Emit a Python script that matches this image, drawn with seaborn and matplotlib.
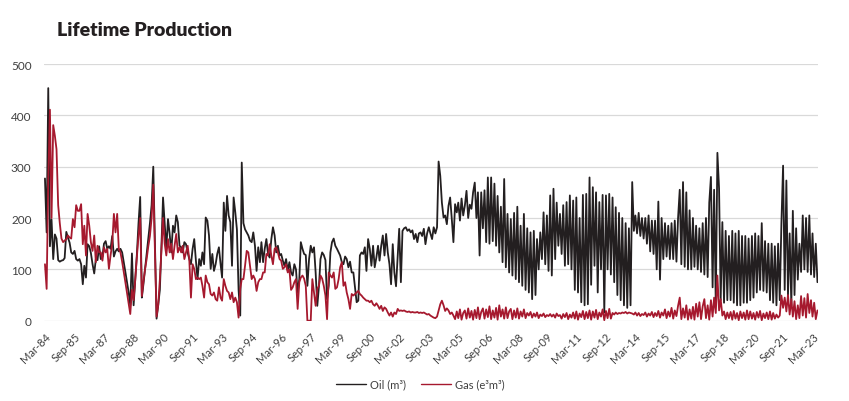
import pandas as pd
import seaborn as sns
import matplotlib.pyplot as plt
from matplotlib.lines import Line2D

# monthly production, first month is Mar-84
start_month = '1984-03-01'

oil = [
    277, 172, 453, 145, 197, 120, 168, 160, 118, 115,                  # 1984
    117, 118, 122, 173, 162, 152, 133, 130, 136, 120, 117, 120,        # 1985
    110, 71, 107, 84, 149, 145, 132, 110, 92, 120, 118, 145,           # 1986
    120, 125, 150, 155, 140, 145, 140, 165, 125, 135, 140, 135,        # 1987
    140, 133, 115, 95, 75, 55, 30, 131, 30, 80, 130, 190,              # 1988
    241, 45, 70, 100, 130, 160, 190, 225, 300, 150, 4, 30,             # 1989
    60, 150, 240, 190, 140, 198, 170, 133, 185, 172, 205, 192,         # 1990
    146, 143, 133, 153, 149, 133, 120, 110, 140, 159, 117, 81,         # 1991
    120, 107, 133, 110, 201, 195, 166, 101, 130, 97, 110, 130,         # 1992
    143, 110, 84, 230, 175, 243, 205, 192, 107, 240, 211, 178,         # 1993
    60, 10, 308, 190, 178, 172, 166, 156, 153, 172, 146, 97,           # 1994
    143, 114, 153, 114, 140, 159, 130, 123, 159, 182, 166, 133,        # 1995
    146, 127, 130, 117, 107, 120, 97, 114, 94, 88, 110, 100,           # 1996
    55, 81, 153, 140, 130, 128, 68, 120, 146, 133, 143, 94,            # 1997
    29, 68, 120, 133, 128, 118, 42, 68, 133, 153, 160, 146,            # 1998
    140, 133, 127, 114, 110, 125, 120, 104, 115, 94, 94, 65,           # 1999
    36, 39, 127, 133, 130, 143, 97, 159, 140, 107, 146, 104,           # 2000
    123, 146, 117, 146, 166, 127, 169, 133, 110, 71, 149, 94,          # 2001
    67, 127, 179, 75, 175, 180, 182, 175, 178, 172, 176, 159,          # 2002
    169, 153, 170, 172, 165, 179, 149, 170, 182, 170, 159, 182,        # 2003
    170, 182, 310, 282, 230, 201, 205, 188, 224, 240, 198, 153,        # 2004
    227, 211, 230, 195, 238, 205, 224, 253, 200, 226, 218, 250,        # 2005
    269, 200, 250, 127, 250, 180, 254, 153, 279, 150, 279, 155,        # 2006
    267, 146, 243, 133, 222, 114, 276, 104, 208, 94, 198, 88,          # 2007
    210, 81, 222, 75, 185, 68, 208, 60, 180, 55, 172, 42,              # 2008
    175, 50, 159, 100, 172, 120, 211, 110, 205, 97, 244, 88,           # 2009
    257, 120, 230, 146, 208, 130, 225, 107, 231, 110, 244, 100,        # 2010
    234, 60, 240, 55, 200, 36, 245, 30, 247, 32, 279, 70,              # 2011
    260, 107, 250, 55, 231, 100, 245, 16, 244, 100, 247, 90,           # 2012
    240, 75, 221, 50, 210, 40, 200, 30, 190, 25, 180, 30,              # 2013
    270, 175, 205, 170, 210, 165, 200, 160, 200, 150, 205, 135,        # 2014
    195, 130, 195, 100, 232, 80, 200, 120, 190, 125, 185, 120,         # 2015
    190, 120, 195, 115, 200, 255, 110, 270, 105, 250, 100, 215,        # 2016
    100, 200, 105, 185, 100, 180, 95, 190, 90, 200, 85, 230,           # 2017
    280, 65, 255, 30, 327, 257, 40, 192, 35, 175, 40, 165,             # 2018
    40, 175, 35, 170, 30, 175, 30, 165, 35, 165, 35, 160,              # 2019
    40, 165, 45, 170, 55, 165, 60, 190, 58, 155, 55, 150,              # 2020
    40, 150, 35, 145, 30, 150, 40, 190, 302, 60, 273, 50,              # 2021
    170, 30, 214, 50, 180, 80, 150, 95, 205, 100, 200, 95,             # 2022
    205, 90, 170, 85, 150, 75,                                         # 2023
]

gas = [
    110, 62, 276, 411, 200, 381, 360, 334, 225, 190,                   # 1984
    160, 153, 156, 159, 166, 162, 160, 198, 182, 225, 214, 214,        # 1985
    227, 149, 185, 127, 208, 185, 153, 136, 166, 114, 146, 133,        # 1986
    133, 117, 143, 133, 140, 101, 127, 150, 208, 172, 208, 140,        # 1987
    133, 115, 95, 75, 55, 35, 13, 60, 40, 80, 125, 165,                # 1988
    200, 48, 75, 100, 120, 145, 165, 200, 265, 140, 8, 30,             # 1989
    80, 140, 200, 150, 127, 159, 133, 150, 120, 146, 169, 133,         # 1990
    143, 133, 146, 120, 133, 146, 120, 45, 110, 101, 81, 84,           # 1991
    81, 84, 68, 45, 88, 75, 71, 52, 49, 55, 42, 39,                    # 1992
    65, 45, 39, 81, 68, 58, 55, 42, 55, 36, 45, 36,                    # 1993
    6, 62, 81, 81, 107, 136, 133, 107, 81, 88, 81, 58,                 # 1994
    75, 81, 81, 94, 94, 130, 127, 149, 127, 110, 140, 143,             # 1995
    133, 120, 117, 101, 104, 110, 94, 100, 60, 65, 75, 81,             # 1996
    23, 75, 84, 88, 82, 68, 0, 0, 0, 81, 55, 29,                       # 1997
    62, 68, 88, 82, 68, 49, 3, 94, 88, 84, 94, 62,                     # 1998
    65, 81, 104, 114, 68, 75, 55, 42, 23, 52, 49, 52,                  # 1999
    55, 58, 52, 49, 45, 42, 39, 39, 36, 39, 32, 29,                    # 2000
    34, 29, 23, 29, 19, 26, 23, 16, 10, 16, 8, 16,                     # 2001
    13, 23, 19, 20, 19, 20, 18, 17, 18, 16, 17, 16,                    # 2002
    16, 17, 15, 16, 15, 16, 14, 12, 13, 10, 8, 6,                      # 2003
    5, 8, 20, 32, 39, 30, 19, 24, 20, 13, 16, 10,                      # 2004
    3, 18, 5, 22, 2, 15, 20, 4, 24, 6, 19, 2,                          # 2005
    21, 5, 26, 3, 17, 24, 4, 22, 7, 28, 3, 20,                         # 2006
    6, 25, 2, 30, 8, 22, 4, 26, 5, 18, 23, 3,                          # 2007
    20, 6, 24, 4, 18, 8, 22, 5, 15, 10, 17, 6,                         # 2008
    14, 8, 16, 5, 12, 9, 14, 7, 11, 9, 13, 8,                          # 2009
    12, 6, 14, 9, 11, 4, 13, 7, 15, 3, 12, 6,                          # 2010
    16, 4, 18, 2, 14, 7, 19, 3, 17, 5, 20, 2,                          # 2011
    18, 6, 21, 3, 16, 8, 22, 1, 19, 5, 23, 4,                          # 2012
    15, 12, 16, 13, 15, 14, 16, 15, 17, 14, 16, 15,                    # 2013
    14, 12, 16, 10, 15, 9, 13, 11, 16, 8, 14, 10,                      # 2014
    17, 7, 15, 9, 19, 6, 16, 10, 22, 5, 18, 8,                         # 2015
    25, 4, 20, 9, 29, 45, 3, 24, 6, 30, 2, 22,                         # 2016
    4, 27, 2, 33, 8, 36, 3, 28, 42, 5, 30, 2,                          # 2017
    40, 8, 45, 15, 88, 20, 42, 10, 18, 3, 16, 5,                       # 2018
    17, 2, 19, 4, 15, 1, 18, 5, 16, 2, 20, 3,                          # 2019
    18, 4, 15, 2, 17, 6, 19, 1, 14, 5, 16, 3,                          # 2020
    18, 2, 15, 4, 12, 6, 10, 49, 25, 45, 18, 50,                       # 2021
    12, 42, 8, 38, 3, 30, 5, 48, 10, 44, 6, 52,                        # 2022
    15, 40, 8, 35, 3, 20,                                              # 2023
]

series_names = ['Oil (m³)', 'Gas (e³m³)']
series_colors = ['#231f20', '#a6192e']
y_ticks = [0, 100, 200, 300, 400, 500]
tick_step = 18  # one label every 18 months

months = pd.date_range(start_month, periods=len(oil), freq='MS')

df = pd.DataFrame({'month': months, series_names[0]: oil, series_names[1]: gas})
df = df.melt(id_vars='month', var_name='series', value_name='volume')

sns.set_theme(style='white')
plt.rcParams['font.family'] = ['Lato', 'DejaVu Sans']

fig = plt.figure(figsize=(8.49, 4.02), dpi=100)
ax = fig.add_axes([44 / 849, 1 - 321.7 / 402, (818 - 44) / 849, (321.7 - 65) / 402])

sns.lineplot(data=df, x='month', y='volume', hue='series', hue_order=series_names,
             palette=dict(zip(series_names, series_colors)), linewidth=1.3,
             legend=False, ax=ax)

ax.set_ylim(0, 500)
ax.set_yticks(y_ticks)
ax.set_xlim(months[0] - pd.Timedelta(days=18), months[-1] + pd.Timedelta(days=10))
ax.set_xticks(months[::tick_step])
ax.set_xticklabels([m.strftime('%b-%y') for m in months[::tick_step]],
                   rotation=45, ha='right', rotation_mode='anchor')
ax.tick_params(axis='x', length=0, pad=7, labelsize=8, labelcolor='#404040')
ax.tick_params(axis='y', length=0, pad=9, labelsize=8.5, labelcolor='#404040')
ax.set_xlabel('')
ax.set_ylabel('')

ax.grid(axis='y', color='#d9d9d9', linewidth=0.9)
ax.set_axisbelow(True)
sns.despine(ax=ax, left=True, bottom=True)

fig.text(57 / 849, 1 - 36 / 402, 'Lifetime Production', fontsize=14,
         fontweight='heavy', color='#231f20', va='baseline')

handles = [Line2D([0], [0], color=c, linewidth=1.0) for c in series_colors]
fig.legend(handles, series_names, loc='center', bbox_to_anchor=(0.495, 1 - 385 / 402),
           ncol=2, frameon=False, fontsize=8, handlelength=2.7,
           handletextpad=0.3, columnspacing=1.4, labelcolor='#404040')

fig.savefig('out.png', dpi=100)
